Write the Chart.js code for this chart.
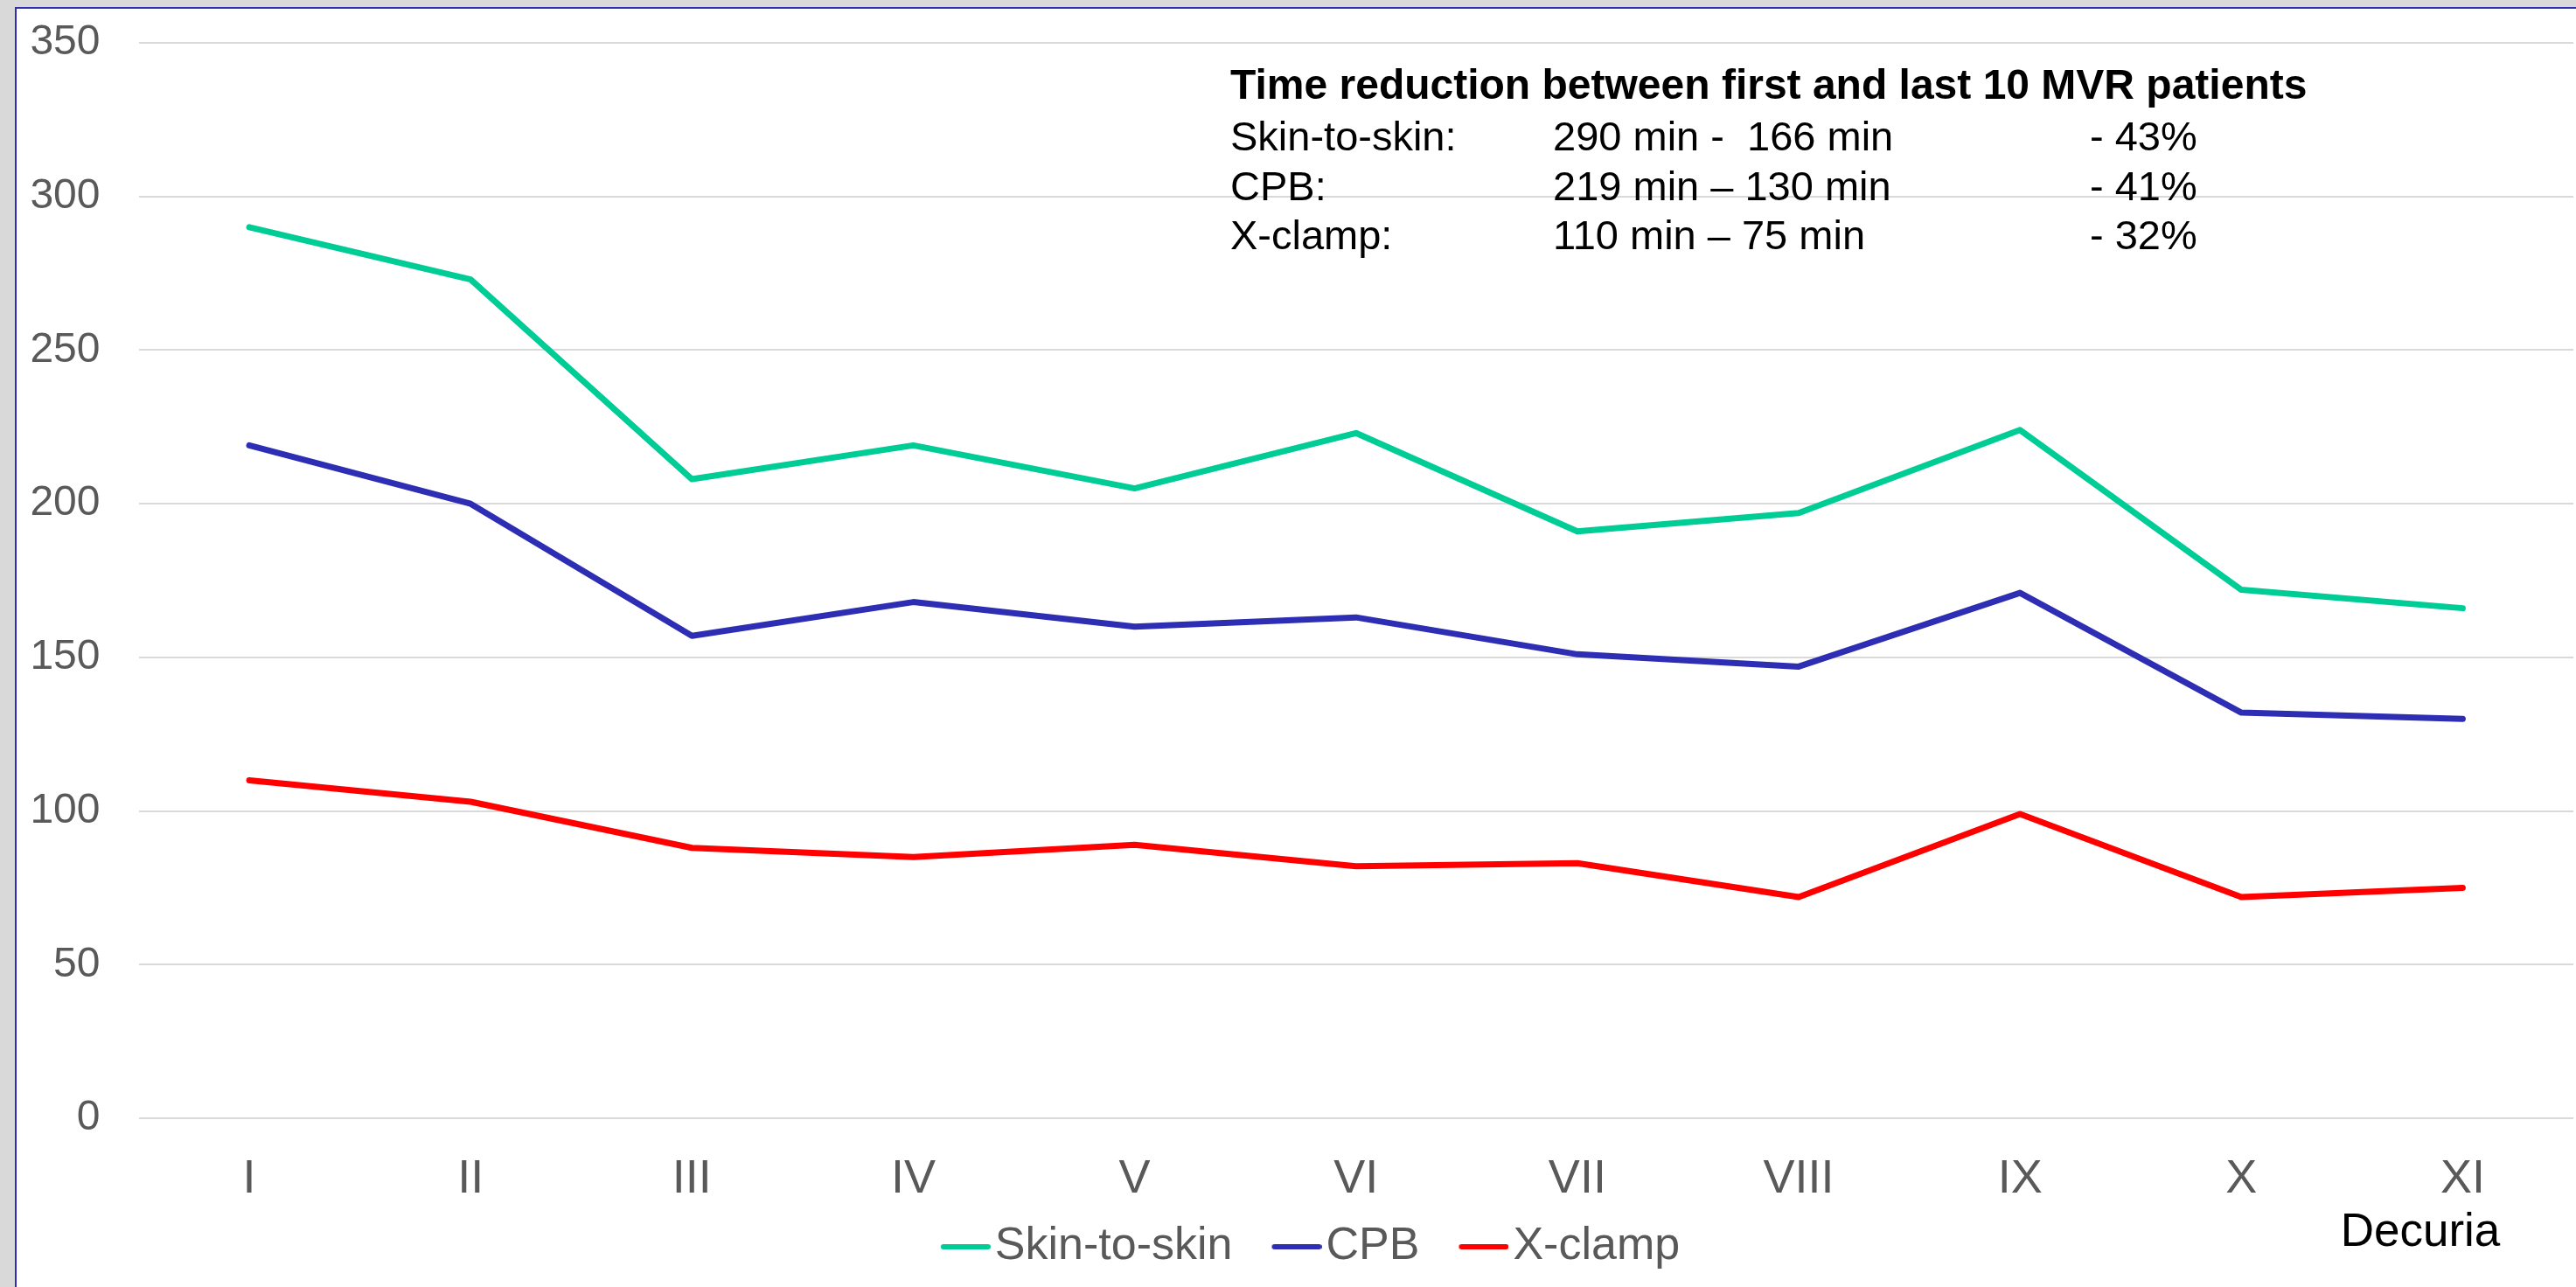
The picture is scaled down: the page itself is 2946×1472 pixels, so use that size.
<!DOCTYPE html>
<html>
<head>
<meta charset="utf-8">
<script src="https://cdn.jsdelivr.net/npm/chart.js@4"></script>
<style>
  html, body { margin: 0; padding: 0; background: #d9d9d9; overflow: hidden; }
  #frame {
    position: absolute; left: 17px; top: 8px;
    width: 2960px; height: 1480px;
    background: #fff;
    border-left: 2px solid #2E2EB4;
    border-top: 2px solid #2E2EB4;
  }
  #chart { display: block; }
</style>
</head>
<body>
<div id="frame"><canvas id="chart" width="2927" height="1462"></canvas></div>
<script>
const decuria = ['I', 'II', 'III', 'IV', 'V', 'VI', 'VII', 'VIII', 'IX', 'X', 'XI']
const skinToSkin = [290, 273, 208, 219, 205, 223, 191, 197, 224, 172, 166]
const cpb = [219, 200, 157, 168, 160, 163, 151, 147, 171, 132, 130]
const xClamp = [110, 103, 88, 85, 89, 82, 83, 72, 99, 72, 75]
const yTicks = [0, 50, 100, 150, 200, 250, 300, 350]

const noteTitle = 'Time reduction between first and last 10 MVR patients'
const noteRows = [
  ['Skin-to-skin:', '290 min -  166 min', '- 43%'],
  ['CPB:', '219 min \u2013 130 min', '- 41%'],
  ['X-clamp:', '110 min \u2013 75 min', '- 32%']
]

Chart.defaults.font.family = "'Liberation Sans', Arial, sans-serif"

// little line image for the legend: empty room on the left, line close to the text
function legendLine(color) {
  const c = document.createElement('canvas')
  c.width = 113
  c.height = 10
  const g = c.getContext('2d')
  g.strokeStyle = color
  g.lineWidth = 6
  g.lineCap = 'round'
  g.beginPath()
  g.moveTo(59, 5)
  g.lineTo(110, 5)
  g.stroke()
  return c
}

function series(label, values, color) {
  return {
    label: label,
    data: values,
    borderColor: color,
    backgroundColor: color,
    borderWidth: 7,
    borderCapStyle: 'round',
    borderJoinStyle: 'round',
    pointRadius: 0,
    pointStyle: legendLine(color),
    tension: 0
  }
}

const notePlugin = {
  id: 'note',
  afterDraw(chart) {
    const ctx = chart.ctx
    ctx.save()
    ctx.fillStyle = '#000'
    ctx.textAlign = 'left'
    ctx.textBaseline = 'alphabetic'
    ctx.font = "bold 48px 'Liberation Sans', Arial, sans-serif"
    ctx.fillText(noteTitle, 1388, 103)
    ctx.font = "47px 'Liberation Sans', Arial, sans-serif"
    const cols = [1388, 1757, 2371]
    noteRows.forEach((row, i) => {
      row.forEach((txt, j) => ctx.fillText(txt, cols[j], 162 + i * 56.5))
    })
    ctx.font = "53px 'Liberation Sans', Arial, sans-serif"
    ctx.textAlign = 'center'
    ctx.textBaseline = 'middle'
    ctx.fillText('Decuria', 2749, 1400)
    ctx.restore()
  }
}

const ctx = document.getElementById('chart').getContext('2d')
new Chart(ctx, {
  type: 'line',
  data: {
    labels: decuria,
    datasets: [
      series('Skin-to-skin', skinToSkin, '#00CC96'),
      series('CPB', cpb, '#2E2EB4'),
      series('X-clamp', xClamp, '#FF0000')
    ]
  },
  options: {
    responsive: false,
    animation: false,
    layout: { autoPadding: false, padding: { left: 0, right: 3, top: 39, bottom: 10 } },
    scales: {
      x: {
        offset: true,
        grid: { display: false },
        border: { display: false },
        ticks: { color: '#595959', font: { size: 54 }, padding: 30 },
        afterFit(scale) { scale.height = 111 }
      },
      y: {
        min: 0,
        max: 350,
        afterBuildTicks(scale) { scale.ticks = yTicks.map(v => ({ value: v })) },
        grid: { color: '#d9d9d9', lineWidth: 2, drawTicks: false },
        border: { display: false },
        ticks: { color: '#595959', font: { size: 48 }, padding: 44 },
        afterFit(scale) {
          scale.width = 139.5
          // the tick padding should only push labels sideways, not shrink the plot
          scale.paddingTop = 0
          scale.paddingBottom = 0
        }
      }
    },
    plugins: {
      tooltip: { enabled: false },
      legend: {
        position: 'bottom',
        labels: {
          usePointStyle: true,
          pointStyleWidth: 71,
          color: '#595959',
          font: { size: 52 },
          padding: 10
        }
      }
    }
  },
  plugins: [notePlugin]
})
</script>
</body>
</html>
